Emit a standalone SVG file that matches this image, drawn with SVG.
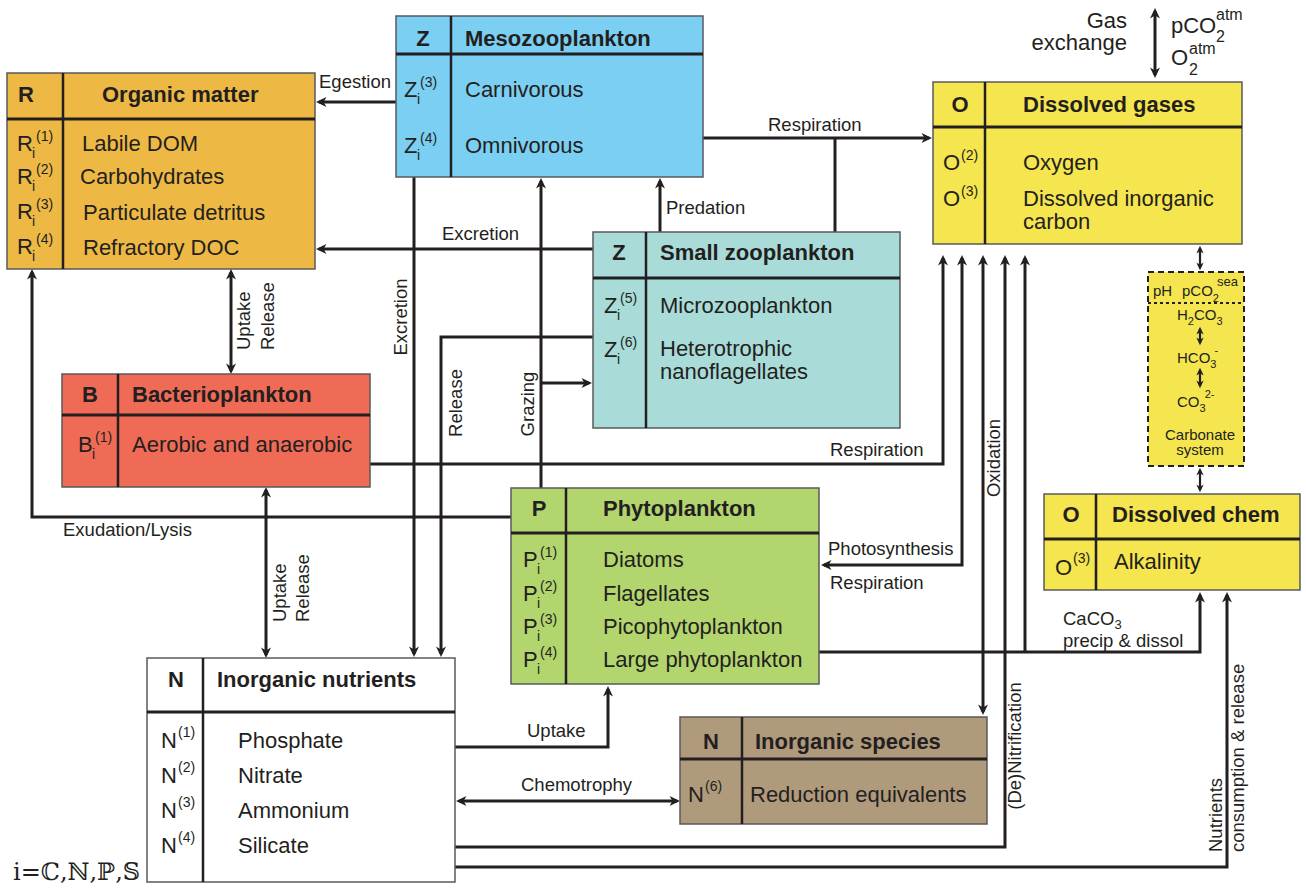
<svg xmlns="http://www.w3.org/2000/svg" width="1306" height="890" viewBox="0 0 1306 890">
<style>
text{font-family:"Liberation Sans",Arial,Helvetica,sans-serif;fill:#231f20}
.h{font-size:22px;font-weight:bold}
.t{font-size:22px}
.s{font-size:14px}
.l{font-size:18.5px}
.cb{font-size:15px}
.box{stroke:#58595b;stroke-width:1.5}
.dv{stroke:#231f20;stroke-width:3}
.cl{stroke:#231f20;stroke-width:2.5}
.c{stroke:#231f20;stroke-width:3;fill:none}
.c2{stroke:#231f20;stroke-width:2.2;fill:none}
</style>
<defs>
<marker id="a" viewBox="0 0 12 12" refX="8" refY="6" markerWidth="4" markerHeight="4" markerUnits="strokeWidth" orient="auto-start-reverse">
<path d="M0.5,1 L11,6 L0.5,11 L3.5,6 Z" fill="#231f20"/>
</marker>
</defs>

<g id="connectors">
<path class="c" d="M396,102 H319" marker-end="url(#a)"/>
<path class="c" d="M593,249 H319" marker-end="url(#a)"/>
<path class="c" d="M703,138 H929" marker-end="url(#a)"/>
<path class="c" d="M835,232 V138"/>
<path class="c" d="M660,232 V181" marker-end="url(#a)"/>
<path class="c" d="M541,488 V181" marker-end="url(#a)"/>
<path class="c" d="M541,383 H589" marker-end="url(#a)"/>
<path class="c" d="M593,337 H441 V654" marker-end="url(#a)"/>
<path class="c" d="M414,177 V654" marker-end="url(#a)"/>
<path class="c" d="M231,272 V371" marker-start="url(#a)" marker-end="url(#a)"/>
<path class="c" d="M266,490 V655" marker-start="url(#a)" marker-end="url(#a)"/>
<path class="c" d="M511,517 H32 V272" marker-end="url(#a)"/>
<path class="c" d="M370,464 H943 V258" marker-end="url(#a)"/>
<path class="c" d="M824,565 H962 V258" marker-start="url(#a)" marker-end="url(#a)"/>
<path class="c" d="M983,258 V712" marker-start="url(#a)" marker-end="url(#a)"/>
<path class="c" d="M455,847 H1005 V258" marker-end="url(#a)"/>
<path class="c" d="M819,652 H1200 V595" marker-end="url(#a)"/>
<path class="c" d="M1025,652 V258" marker-end="url(#a)"/>
<path class="c" d="M455,867 H1227 V595" marker-end="url(#a)"/>
<path class="c" d="M455,747 H608 V689" marker-end="url(#a)"/>
<path class="c" d="M459,801 H677" marker-start="url(#a)" marker-end="url(#a)"/>
<path class="c" d="M1155,11 V75" marker-start="url(#a)" marker-end="url(#a)"/>
<path class="c2" d="M1200,248 V268" marker-start="url(#a)" marker-end="url(#a)"/>
<path class="c2" d="M1200,470 V490" marker-start="url(#a)" marker-end="url(#a)"/>

<text class="l" x="319" y="88">Egestion</text>
<text class="l" x="442" y="240">Excretion</text>
<text class="l" x="768" y="131">Respiration</text>
<text class="l" x="666" y="214">Predation</text>
<text class="l" transform="translate(534,404) rotate(-90)" text-anchor="middle">Grazing</text>
<text class="l" transform="translate(462,403) rotate(-90)" text-anchor="middle">Release</text>
<text class="l" transform="translate(407,317) rotate(-90)" text-anchor="middle">Excretion</text>
<text class="l" transform="translate(250,350) rotate(-90)">Uptake</text>
<text class="l" transform="translate(274,350) rotate(-90)">Release</text>
<text class="l" transform="translate(286,622) rotate(-90)">Uptake</text>
<text class="l" transform="translate(309,622) rotate(-90)">Release</text>
<text class="l" x="63" y="536">Exudation/Lysis</text>
<text class="l" x="830" y="456">Respiration</text>
<text class="l" x="828" y="555">Photosynthesis</text>
<text class="l" x="830" y="589">Respiration</text>
<text class="l" transform="translate(1000,458) rotate(-90)" text-anchor="middle">Oxidation</text>
<text class="l" transform="translate(1021,746) rotate(-90)" text-anchor="middle">(De)Nitrification</text>
<text class="l" x="1063" y="625">CaCO<tspan style="font-size:13px" dy="4">3</tspan></text>
<text class="l" x="1063" y="647">precip &amp; dissol</text>
<text class="l" transform="translate(1222,852) rotate(-90)">Nutrients</text>
<text class="l" transform="translate(1244,852) rotate(-90)">consumption &amp; release</text>
<text class="l" x="527" y="737">Uptake</text>
<text class="l" x="521" y="791">Chemotrophy</text>
<text class="t" x="1127" y="28" text-anchor="end">Gas</text>
<text class="t" x="1127" y="50" text-anchor="end">exchange</text>
<text class="t" x="1171" y="33">pCO</text>
<text style="font-size:16px" x="1216" y="20">atm</text>
<text style="font-size:16px" x="1216" y="42">2</text>
<text class="t" x="1171" y="65">O</text>
<text style="font-size:16px" x="1189" y="54">atm</text>
<text style="font-size:16px" x="1189" y="75">2</text>
</g>

<g id="organic-matter">
<rect class="box" x="7" y="73" width="308" height="196" fill="#edb944"/>
<line class="dv" x1="7" y1="119" x2="315" y2="119"/>
<line class="cl" x1="63" y1="73" x2="63" y2="269"/>
<text class="h" x="18" y="102">R</text>
<text class="h" x="102" y="102">Organic matter</text>
<text class="t" x="17" y="151">R</text><text class="s" x="32" y="158">i</text><text class="s" x="36" y="141">(1)</text>
<text class="t" x="17" y="184">R</text><text class="s" x="32" y="191">i</text><text class="s" x="36" y="174">(2)</text>
<text class="t" x="17" y="219">R</text><text class="s" x="32" y="226">i</text><text class="s" x="36" y="209">(3)</text>
<text class="t" x="17" y="254">R</text><text class="s" x="32" y="261">i</text><text class="s" x="36" y="244">(4)</text>
<text class="t" x="82" y="151">Labile DOM</text>
<text class="t" x="80" y="184">Carbohydrates</text>
<text class="t" x="83" y="220">Particulate detritus</text>
<text class="t" x="83" y="255">Refractory DOC</text>
</g>

<g id="mesozooplankton">
<rect class="box" x="396" y="16" width="307" height="161" fill="#7bcff3"/>
<line class="dv" x1="396" y1="54" x2="703" y2="54"/>
<line class="cl" x1="451" y1="16" x2="451" y2="177"/>
<text class="h" x="423" y="46" text-anchor="middle">Z</text>
<text class="h" x="465" y="46">Mesozooplankton</text>
<text class="t" x="404" y="97">Z</text><text class="s" x="417" y="104">i</text><text class="s" x="420" y="87">(3)</text>
<text class="t" x="404" y="153">Z</text><text class="s" x="417" y="160">i</text><text class="s" x="420" y="143">(4)</text>
<text class="t" x="465" y="97">Carnivorous</text>
<text class="t" x="465" y="153">Omnivorous</text>
</g>

<g id="dissolved-gases">
<rect class="box" x="933" y="82" width="309" height="162" fill="#f5e54e"/>
<line class="dv" x1="933" y1="127" x2="1242" y2="127"/>
<line class="cl" x1="985" y1="82" x2="985" y2="244"/>
<text class="h" x="960" y="112" text-anchor="middle">O</text>
<text class="h" x="1023" y="112">Dissolved gases</text>
<text class="t" x="943" y="170">O</text><text class="s" x="961" y="160">(2)</text>
<text class="t" x="943" y="206">O</text><text class="s" x="961" y="196">(3)</text>
<text class="t" x="1023" y="170">Oxygen</text>
<text class="t" x="1023" y="206">Dissolved inorganic</text>
<text class="t" x="1023" y="229">carbon</text>
</g>

<g id="carbonate-system">
<rect x="1148" y="272" width="96" height="194" fill="#f5e54e" stroke="#231f20" stroke-width="2" stroke-dasharray="6,4"/>
<line x1="1148" y1="303" x2="1244" y2="303" stroke="#231f20" stroke-width="2" stroke-dasharray="3,3"/>
<text class="cb" x="1153" y="296">pH</text>
<text class="cb" x="1182" y="296">pCO<tspan style="font-size:11px" dy="6">2</tspan><tspan style="font-size:13px" dx="-2" dy="-16">sea</tspan></text>
<text class="cb" x="1177" y="320">H<tspan style="font-size:11px" dy="5">2</tspan><tspan dy="-5">CO</tspan><tspan style="font-size:11px" dy="5">3</tspan></text>
<path class="c2" d="M1200,329 V343" marker-start="url(#a)" marker-end="url(#a)"/>
<text class="cb" x="1177" y="363">HCO<tspan style="font-size:11px" dy="5">3</tspan><tspan style="font-size:11px" dx="-2" dy="-14">-</tspan></text>
<path class="c2" d="M1200,370 V386" marker-start="url(#a)" marker-end="url(#a)"/>
<text class="cb" x="1177" y="407">CO<tspan style="font-size:11px" dy="5">3</tspan><tspan style="font-size:11px" dx="-1" dy="-14">2-</tspan></text>
<text class="cb" x="1200" y="440" text-anchor="middle">Carbonate</text>
<text class="cb" x="1200" y="455" text-anchor="middle">system</text>
</g>

<g id="dissolved-chem">
<rect class="box" x="1044" y="494" width="256" height="96" fill="#f5e54e"/>
<line class="dv" x1="1044" y1="539" x2="1300" y2="539"/>
<line class="cl" x1="1096" y1="494" x2="1096" y2="590"/>
<text class="h" x="1071" y="522" text-anchor="middle">O</text>
<text class="h" x="1112" y="522">Dissolved chem</text>
<text class="t" x="1055" y="575">O</text><text class="s" x="1073" y="563">(3)</text>
<text class="t" x="1114" y="569">Alkalinity</text>
</g>

<g id="small-zooplankton">
<rect class="box" x="593" y="232" width="307" height="196" fill="#a9dcd8"/>
<line class="dv" x1="593" y1="278" x2="900" y2="278"/>
<line class="cl" x1="646" y1="232" x2="646" y2="428"/>
<text class="h" x="619" y="260" text-anchor="middle">Z</text>
<text class="h" x="660" y="260">Small zooplankton</text>
<text class="t" x="604" y="313">Z</text><text class="s" x="617" y="320">i</text><text class="s" x="620" y="303">(5)</text>
<text class="t" x="604" y="357">Z</text><text class="s" x="617" y="364">i</text><text class="s" x="620" y="347">(6)</text>
<text class="t" x="660" y="356">Heterotrophic</text>
<text class="t" x="660" y="313">Microzooplankton</text>
<text class="t" x="660" y="379">nanoflagellates</text>
</g>

<g id="bacterioplankton">
<rect class="box" x="62" y="374" width="308" height="113" fill="#f06b55"/>
<line class="dv" x1="62" y1="415" x2="370" y2="415"/>
<line class="cl" x1="118" y1="374" x2="118" y2="487"/>
<text class="h" x="90" y="402" text-anchor="middle">B</text>
<text class="h" x="132" y="402">Bacterioplankton</text>
<text class="t" x="78" y="452">B</text><text class="s" x="92" y="459">i</text><text class="s" x="95" y="442">(1)</text>
<text class="t" x="132" y="452">Aerobic and anaerobic</text>
</g>

<g id="phytoplankton">
<rect class="box" x="511" y="488" width="308" height="196" fill="#b3d56e"/>
<line class="dv" x1="511" y1="533" x2="819" y2="533"/>
<line class="cl" x1="566" y1="488" x2="566" y2="684"/>
<text class="h" x="539" y="516" text-anchor="middle">P</text>
<text class="h" x="603" y="516">Phytoplankton</text>
<text class="t" x="523" y="567">P</text><text class="s" x="537" y="574">i</text><text class="s" x="540" y="557">(1)</text>
<text class="t" x="523" y="601">P</text><text class="s" x="537" y="608">i</text><text class="s" x="540" y="591">(2)</text>
<text class="t" x="523" y="634">P</text><text class="s" x="537" y="641">i</text><text class="s" x="540" y="624">(3)</text>
<text class="t" x="523" y="667">P</text><text class="s" x="537" y="674">i</text><text class="s" x="540" y="657">(4)</text>
<text class="t" x="603" y="567">Diatoms</text>
<text class="t" x="603" y="601">Flagellates</text>
<text class="t" x="603" y="634">Picophytoplankton</text>
<text class="t" x="603" y="667">Large phytoplankton</text>
</g>

<g id="inorganic-nutrients">
<rect class="box" x="147" y="658" width="308" height="224" fill="#ffffff"/>
<line class="dv" x1="147" y1="712" x2="455" y2="712"/>
<line class="cl" x1="203" y1="658" x2="203" y2="882"/>
<text class="h" x="176" y="687" text-anchor="middle">N</text>
<text class="h" x="217" y="687">Inorganic nutrients</text>
<text class="t" x="161" y="748">N</text><text class="s" x="178" y="737">(1)</text>
<text class="t" x="161" y="783">N</text><text class="s" x="178" y="772">(2)</text>
<text class="t" x="161" y="818">N</text><text class="s" x="178" y="807">(3)</text>
<text class="t" x="161" y="853">N</text><text class="s" x="178" y="842">(4)</text>
<text class="t" x="238" y="748">Phosphate</text>
<text class="t" x="238" y="783">Nitrate</text>
<text class="t" x="238" y="818">Ammonium</text>
<text class="t" x="238" y="853">Silicate</text>
</g>

<g id="inorganic-species">
<rect class="box" x="680" y="717" width="307" height="107" fill="#b09a7c"/>
<line class="dv" x1="680" y1="759" x2="987" y2="759"/>
<line class="cl" x1="742" y1="717" x2="742" y2="824"/>
<text class="h" x="711" y="749" text-anchor="middle">N</text>
<text class="h" x="755" y="749">Inorganic species</text>
<text class="t" x="688" y="802">N</text><text class="s" x="705" y="791">(6)</text>
<text class="t" x="750" y="802">Reduction equivalents</text>
</g>

<g id="index-note">
<text x="13" y="880" style="font-family:'DejaVu Serif','DejaVu Sans',serif;font-size:24px">i=ℂ,ℕ,ℙ,𝕊</text>
</g>
</svg>
